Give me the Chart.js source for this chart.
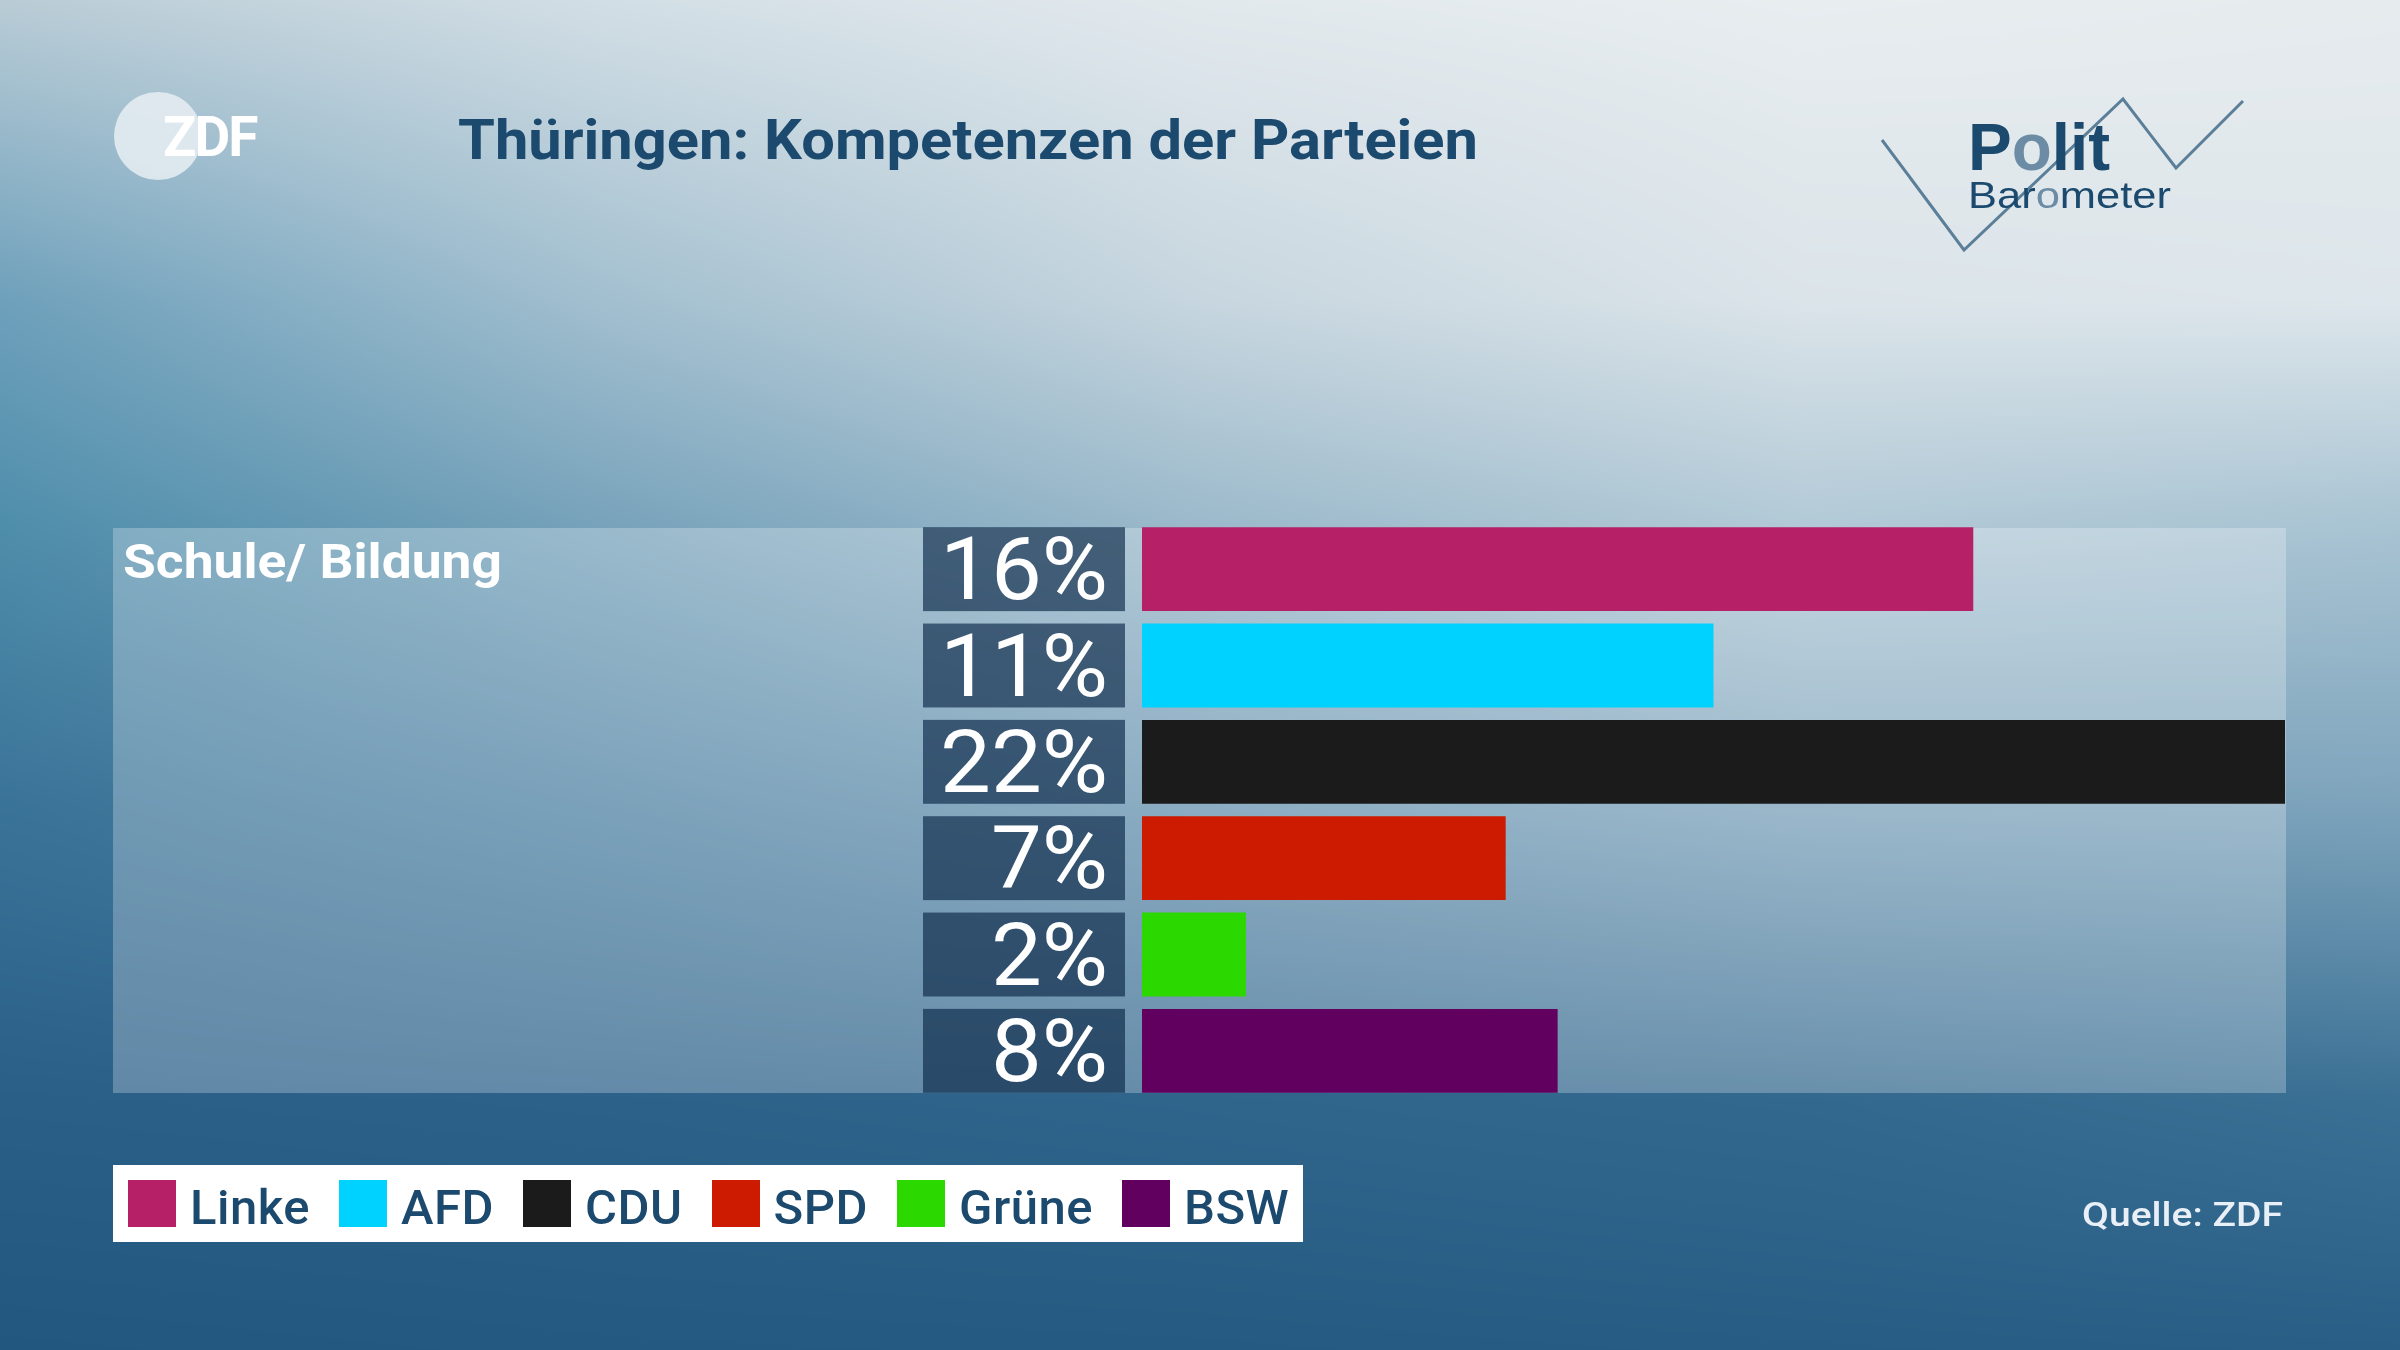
<!DOCTYPE html>
<html lang="de">
<head>
<meta charset="utf-8">
<title>Thüringen: Kompetenzen der Parteien</title>
<script src="https://cdn.jsdelivr.net/npm/chart.js@4.4.1/dist/chart.umd.min.js"></script>
<style>
  html, body { margin: 0; padding: 0; }
  body {
    width: 2400px; height: 1350px; overflow: hidden; position: relative;
    font-family: Roboto, "Noto Sans", sans-serif; background: #5a8db0;
  }
  .abs { position: absolute; }
  .fit { white-space: nowrap; display: inline-block; transform-origin: 0 0; line-height: 1; }
  #bg, #chart { position: absolute; left: 0; top: 0; }
  .panel { left: 113px; top: 528px; width: 2173px; height: 565px; background: rgba(255,255,255,0.26); }
  #title { left: 458px; top: 113px; font-size: 55px; font-weight: 700; color: #1b4a6e; }
  #category { left: 123px; top: 537px; font-size: 49px; font-weight: 700; color: #ffffff; }
  #source { left: 2082px; top: 1198px; font-size: 33px; font-weight: 500; color: #e9eff6; }
  .zdf-circle { left: 114px; top: 92px; width: 88px; height: 88px; border-radius: 50%; background: rgba(232,239,243,0.85); }
  #zdf { left: 163px; top: 110px; font-size: 55px; font-weight: 700; color: #ffffff; letter-spacing: -2px; }
  #polit { left: 1968px; top: 113px; font-family: "Liberation Sans", Arial, sans-serif; font-size: 67px; font-weight: 700; color: #1b4a6e; }
  #barometer { left: 1968px; top: 178px; font-family: "Liberation Sans", Arial, sans-serif; font-size: 36px; color: #1b4a6e; }
  .light-o { color: #6b8ca4; }
  #legend {
    left: 113px; top: 1165px; height: 77px; background: #ffffff;
    display: flex; align-items: flex-start; padding: 15px 14px 0 15px; box-sizing: border-box; gap: 29px;
  }
  .item { display: flex; align-items: flex-start; gap: 14px; }
  .swatch { width: 48px; height: 47px; }
  .item span { font-size: 49px; font-weight: 500; color: #1c4a6e; line-height: 49px; margin-top: 3px; white-space: nowrap; letter-spacing: 0.5px; }
</style>
</head>
<body>
<canvas id="bg" width="2400" height="1350"></canvas>

<div class="abs zdf-circle"></div>
<div id="zdf" class="abs fit">ZDF</div>
<div id="title" class="abs fit" data-w="1020">Thüringen: Kompetenzen der Parteien</div>

<svg class="abs" style="left:0;top:0" width="2400" height="300">
  <polyline points="1882,140 1964,250 2123,99 2176,168 2243,101" fill="none" stroke="#5b7f98" stroke-width="3"/>
</svg>
<div id="polit" class="abs fit" data-w="142">P<span class="light-o">o</span>lit</div>
<div id="barometer" class="abs fit" data-w="203">Bar<span class="light-o">o</span>meter</div>

<div class="abs panel"></div>
<div id="category" class="abs fit" data-w="379"></div>

<canvas id="chart" width="2400" height="1350"></canvas>

<div id="legend" class="abs"></div>
<div id="source" class="abs fit" data-w="201">Quelle: ZDF</div>

<script>
// Daten
const category = 'Schule/ Bildung';
const parties = ['Linke', 'AFD', 'CDU', 'SPD', 'Grüne', 'BSW'];
const values = [16, 11, 22, 7, 2, 8];
const partyColors = ['#b52066', '#00d2ff', '#1b1b1b', '#cc1b00', '#2bd900', '#62005f'];
const axisMax = 22;

// Hintergrund: Farbverlauf, bilinear aus ein paar Stützfarben
const bgX = [0, 600, 1200, 1800, 2400];
const bgY = [0, 300, 520, 800, 1100, 1350];
const bgColors = [
  ['#b9ccd6', '#d2dee5', '#e2e9ed', '#e8edf0', '#e6ebee'],
  ['#6ea0bb', '#a2bfcf', '#c7d6df', '#dbe4e9', '#dde6eb'],
  ['#4f8eab', '#78a3bb', '#9cbacb', '#b3cad7', '#a9c4d3'],
  ['#3a7398', '#4e82a3', '#6591ae', '#7aa1ba', '#7ea4bc'],
  ['#2a5f88', '#2c6189', '#2f648b', '#33688e', '#3a7094'],
  ['#225880', '#245a81', '#255b82', '#275d84', '#295f86']
];

function hexToRgb(h) {
  return [parseInt(h.slice(1, 3), 16), parseInt(h.slice(3, 5), 16), parseInt(h.slice(5, 7), 16)];
}

function drawBackground() {
  const cv = document.getElementById('bg');
  const ctx = cv.getContext('2d');
  const W = cv.width, H = cv.height;
  const img = ctx.createImageData(W, H);
  const rgb = bgColors.map(row => row.map(hexToRgb));
  // Spaltenindex und Anteil pro x vorberechnen
  const xi = new Int32Array(W), xt = new Float32Array(W);
  for (let x = 0; x < W; x++) {
    let i = 0;
    while (i < bgX.length - 2 && x > bgX[i + 1]) i++;
    xi[x] = i; xt[x] = (x - bgX[i]) / (bgX[i + 1] - bgX[i]);
  }
  let p = 0;
  for (let y = 0; y < H; y++) {
    let j = 0;
    while (j < bgY.length - 2 && y > bgY[j + 1]) j++;
    const ty = (y - bgY[j]) / (bgY[j + 1] - bgY[j]);
    const r0 = rgb[j], r1 = rgb[j + 1];
    for (let x = 0; x < W; x++) {
      const i = xi[x], tx = xt[x];
      for (let c = 0; c < 3; c++) {
        const a = r0[i][c] + (r0[i + 1][c] - r0[i][c]) * tx;
        const b = r1[i][c] + (r1[i + 1][c] - r1[i][c]) * tx;
        img.data[p + c] = a + (b - a) * ty;
      }
      img.data[p + 3] = 255;
      p += 4;
    }
  }
  ctx.putImageData(img, 0, 0);
}

// Texte auf Zielbreite bringen
function fitTexts() {
  document.querySelectorAll('.fit[data-w]').forEach(el => {
    const w = el.getBoundingClientRect().width;
    if (w > 0) el.style.transform = 'scaleX(' + (Number(el.dataset.w) / w) + ')';
  });
}

// Legende aus den Parteien bauen
function buildLegend() {
  const box = document.getElementById('legend');
  parties.forEach((name, i) => {
    const item = document.createElement('div');
    item.className = 'item';
    const sw = document.createElement('div');
    sw.className = 'swatch';
    sw.style.background = partyColors[i];
    const label = document.createElement('span');
    label.textContent = name;
    item.appendChild(sw);
    item.appendChild(label);
    box.appendChild(item);
  });
}

// Prozentkästen links neben den Balken
const valueBoxes = {
  id: 'valueBoxes',
  afterDatasetsDraw(chart) {
    const ctx = chart.ctx;
    const left = chart.chartArea.left;
    const meta = chart.getDatasetMeta(0);
    ctx.save();
    meta.data.forEach((bar, i) => {
      const top = bar.y - bar.height / 2;
      ctx.fillStyle = 'rgba(10, 40, 72, 0.66)';
      ctx.fillRect(left - 219, top, 202, bar.height);
      ctx.fillStyle = '#ffffff';
      ctx.font = '87px Roboto';
      ctx.textAlign = 'right';
      ctx.textBaseline = 'alphabetic';
      // leicht gestreckt, wie in der Vorlage
      ctx.save();
      ctx.translate(left - 34, bar.y + 30);
      ctx.scale(1.04, 1);
      ctx.fillText(values[i] + '%', 0, 0);
      ctx.restore();
    });
    ctx.restore();
  }
};

function buildChart() {
  new Chart(document.getElementById('chart'), {
    type: 'bar',
    data: {
      labels: parties,
      datasets: [{
        data: values,
        backgroundColor: partyColors,
        borderWidth: 0,
        barPercentage: 0.871,
        categoryPercentage: 1
      }]
    },
    options: {
      indexAxis: 'y',
      responsive: false,
      devicePixelRatio: 1,
      animation: false,
      layout: { padding: { left: 1142, right: 115, top: 521, bottom: 251 } },
      plugins: { legend: { display: false }, tooltip: { enabled: false } },
      scales: {
        x: { display: false, min: 0, max: axisMax },
        y: { display: false }
      }
    },
    plugins: [valueBoxes]
  });
}

document.getElementById('category').textContent = category;
drawBackground();
buildLegend();
document.fonts.ready.then(() => {
  fitTexts();
  buildChart();
});
</script>
</body>
</html>
